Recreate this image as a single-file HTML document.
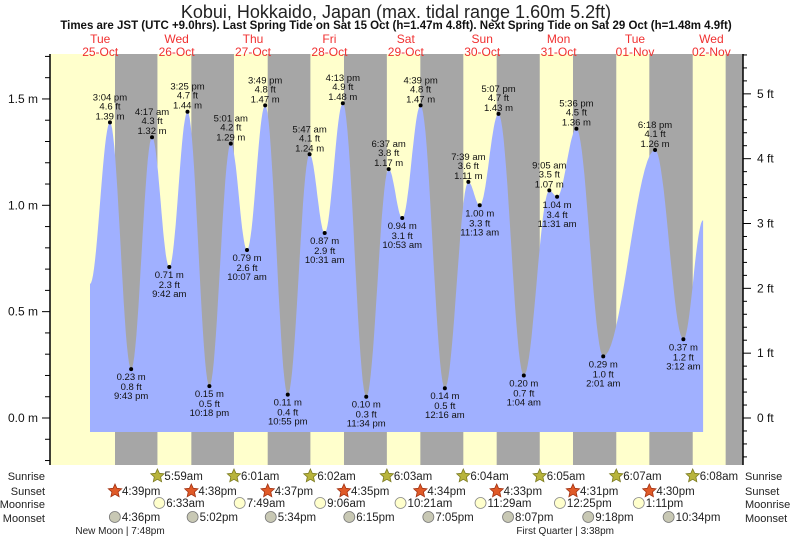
<!DOCTYPE html>
<html><head><meta charset="utf-8"><style>
html,body{margin:0;padding:0;background:#fff;}
svg{display:block;font-family:"Liberation Sans",sans-serif;}
</style></head><body>
<svg id="chart" width="793" height="539" viewBox="0 0 793 539">
<text x="396" y="18" font-size="18" text-anchor="middle" fill="#222">Kobui, Hokkaido, Japan (max. tidal range 1.60m 5.2ft)</text>
<text x="396" y="29" font-size="11.5" font-weight="bold" text-anchor="middle" fill="#111">Times are JST (UTC +9.0hrs). Last Spring Tide on Sat 15 Oct (h=1.47m 4.8ft). Next Spring Tide on Sat 29 Oct (h=1.48m 4.9ft)</text>
<g id="bands"></g><g id="water"></g><g id="axes"></g><g id="labels"></g><g id="astro"></g>
</svg>
<script>
// ---- data ----
const dayNames = ["Tue","Wed","Thu","Fri","Sat","Sun","Mon","Tue","Wed"];
const dayDates = ["25-Oct","26-Oct","27-Oct","28-Oct","29-Oct","30-Oct","31-Oct","01-Nov","02-Nov"];
const tideDays =  [0,   0,    0,    1,    1,    1,    1,    2,    2,    2,    2,    3,    3,    3,    3,    4,    4,    4,    5,    5,    5,    5,    6,    6,    6,    6,    7,    7,    8,    8];
const tideHours = [8.8, 15.07,21.72,4.28, 9.7, 15.42,22.3, 5.02, 10.12,15.82,22.92,5.78, 10.52,16.22,23.57,6.62, 10.88,16.65,0.27, 7.65, 11.22,17.12,1.07, 9.08, 11.52,17.6, 2.02, 18.3, 3.2,  9.4];
const tideHeights=[0.63,1.39, 0.23, 1.32, 0.71, 1.44, 0.15, 1.29, 0.79, 1.47, 0.11, 1.24, 0.87, 1.48, 0.10, 1.17, 0.94, 1.47, 0.14, 1.11, 1.00, 1.43, 0.20, 1.07, 1.04, 1.36, 0.29, 1.26, 0.37, 0.93];
const tideTypes = ["s","H","L","H","L","H","L","H","L","H","L","H","L","H","L","H","L","H","L","H","L","H","L","H","L","H","L","H","L","e"];
const tideLabels = ["","3:04 pm","9:43 pm","4:17 am","9:42 am","3:25 pm","10:18 pm","5:01 am","10:07 am","3:49 pm","10:55 pm","5:47 am","10:31 am","4:13 pm","11:34 pm","6:37 am","10:53 am","4:39 pm","12:16 am","7:39 am","11:13 am","5:07 pm","1:04 am","9:05 am","11:31 am","5:36 pm","2:01 am","6:18 pm","3:12 am",""];
const sunriseDays=[1,2,3,4,5,6,7,8];
const sunriseHours=[5.98,6.02,6.03,6.05,6.07,6.08,6.12,6.13];
const sunriseText=["5:59am","6:01am","6:02am","6:03am","6:04am","6:05am","6:07am","6:08am"];
const sunsetDays=[0,1,2,3,4,5,6,7,8];
const sunsetHours=[16.65,16.63,16.62,16.58,16.57,16.55,16.52,16.5,16.48];
const sunsetText=["4:39pm","4:38pm","4:37pm","4:35pm","4:34pm","4:33pm","4:31pm","4:30pm",""];
const moonriseDays=[1,2,3,4,5,6,7];
const moonriseHours=[6.55,7.82,9.1,10.35,11.48,12.42,13.18];
const moonriseText=["6:33am","7:49am","9:06am","10:21am","11:29am","12:25pm","1:11pm"];
const moonsetDays=[0,1,2,3,4,5,6,7];
const moonsetHours=[16.6,17.03,17.57,18.25,19.08,20.12,21.3,22.57];
const moonsetText=["4:36pm","5:02pm","5:34pm","6:15pm","7:05pm","8:07pm","9:18pm","10:34pm"];
const phaseDays=[0,6];
const phaseHours=[19.8,15.63];
const phaseText=["New Moon | 7:48pm","First Quarter | 3:38pm"];
const mTicks=[0,0.5,1.0,1.5];
const ftTicks=[0,1,2,3,4,5];

// ---- scales ----
const NS="http://www.w3.org/2000/svg";
const X0=50,X1=743,YT=54,YB=465;
const DAYPX=76.4, MID0=62;
function xT(d,h){return MID0+d*DAYPX+h*DAYPX/24;}
function yM(m){return 418-m*212.7;}
function mk(tag,attrs,parent){const e=document.createElementNS(NS,tag);for(const k in attrs)e.setAttribute(k,attrs[k]);parent.appendChild(e);return e;}
const bands=document.getElementById('bands'),water=document.getElementById('water'),axes=document.getElementById('axes'),labels=document.getElementById('labels'),astro=document.getElementById('astro');

let bg=mk('rect',{x:X0,y:YT,width:X1-X0,height:YB-YT,fill:'#ffffcc'},bands);


for(let i=0;i<sunsetDays.length;i++){
  const xs=xT(sunsetDays[i],sunsetHours[i]);
  const xe=i<sunriseDays.length?xT(sunriseDays[i],sunriseHours[i]):X1;
  const r=mk('rect',{x:xs,y:YT,width:Math.min(xe,X1)-xs,height:YB-YT,fill:'#a6a6a6'},bands);
  
  
}
for(let i=0;i<dayNames.length;i++){
  const cx=xT(i,12);
  const t1=mk('text',{x:cx,y:43,'font-size':12,'text-anchor':'middle',fill:'#f03030'},labels);t1.textContent=dayNames[i];
  
  
  const t2=mk('text',{x:cx,y:56,'font-size':12,'text-anchor':'middle',fill:'#f03030'},labels);t2.textContent=dayDates[i];
  
  
}
const pts=[];
for(let i=0;i<tideDays.length-1;i++){
  const xa=xT(tideDays[i],tideHours[i]),xb=xT(tideDays[i+1],tideHours[i+1]);
  const ha=tideHeights[i],hb=tideHeights[i+1];
  for(let s=0;s<=20;s++){const f=s/20;const h=ha+(hb-ha)*(1-Math.cos(Math.PI*f))/2;pts.push([xa+(xb-xa)*f,yM(h)]);}
}
const xs0=pts[0][0],xe0=pts[pts.length-1][0],yBot=432;
let d='M'+xs0.toFixed(1)+','+yBot+' '+pts.map(p=>'L'+p[0].toFixed(1)+','+p[1].toFixed(1)).join(' ')+' L'+xe0.toFixed(1)+','+yBot+'Z';
const wp=mk('path',{d:d,fill:'#a0b0ff'},water);


for(let i=0;i<tideDays.length;i++){
  if(tideTypes[i]!=='H'&&tideTypes[i]!=='L')continue;
  const x=xT(tideDays[i],tideHours[i]),y=yM(tideHeights[i]);
  const c=mk('circle',{cx:x,cy:y,r:2,fill:'#000'},labels);
  
  
  const m=tideHeights[i].toFixed(2)+' m',ft=(tideHeights[i]*3.281).toFixed(1)+' ft',tm=tideLabels[i];
  const lines=tideTypes[i]==='H'?[[tm,y-22],[ft,y-13],[m,y-3]]:[[m,y+11],[ft,y+21],[tm,y+30]];
  for(const [s,yy] of lines){
    const t=mk('text',{x:x,y:yy,'font-size':9.5,'text-anchor':'middle',fill:'#111'},labels);t.textContent=s;
    
    
  }
}
const la=mk('line',{x1:X0,y1:YT,x2:X0,y2:YB,stroke:'#000','stroke-width':1.5},axes);


const ra=mk('line',{x1:X1,y1:YT,x2:X1,y2:YB,stroke:'#000','stroke-width':1.5},axes);


for(let k=-2;k<=17;k++){const m=k/10;const y=yM(m);const maj=(k%5===0);
  mk('line',{x1:X0-(maj?8:5),y1:y,x2:X0,y2:y,stroke:'#000'},axes);}
for(const m of mTicks){const t=mk('text',{x:38,y:yM(m)+4,'font-size':12,'text-anchor':'end',fill:'#111'},axes);t.textContent=m.toFixed(1)+' m';
  
  }
for(let k=-7;k<=28;k++){const f=k/5;const y=yM(f*0.3048);if(y<YT||y>YB)continue;const maj=(k%5===0);
  mk('line',{x1:X1,y1:y,x2:X1+(maj?8:4),y2:y,stroke:'#000'},axes);}
for(const f of ftTicks){const t=mk('text',{x:757,y:yM(f*0.3048)+4,'font-size':12,fill:'#111'},axes);t.textContent=f+' ft';
  
  }
const rows=[["Sunrise",476],["Sunset",491],["Moonrise",504],["Moonset",518]];
for(const [n,y] of rows){
  const a=mk('text',{x:45,y:y+4,'font-size':11,'text-anchor':'end',fill:'#222'},astro);a.textContent=n;
  
  
  const b=mk('text',{x:745,y:y+4,'font-size':11,fill:'#222'},astro);b.textContent=n;
  
  
}
function star(cx,cy,fill,stroke){let p='';for(let k=0;k<10;k++){const r=k%2?3.3:7,a=-Math.PI/2+k*Math.PI/5;p+=(cx+r*Math.cos(a)).toFixed(1)+','+(cy+r*Math.sin(a)).toFixed(1)+' ';}
  return mk('polygon',{points:p,fill:fill,stroke:stroke,'stroke-width':0.8},astro);}
function evRow(days,hours,texts,y,kind){
  for(let i=0;i<days.length;i++){
    const x=xT(days[i],hours[i]);if(x>X1)continue;
    if(!texts[i])continue;
    let ic;
    if(kind==='rise')ic=star(x,y,'#b8b43c','#7a7a20');
    else if(kind==='set')ic=star(x,y,'#e05a28','#a03010');
    else if(kind==='mrise')ic=mk('circle',{cx:x,cy:y,r:5.5,fill:'#ffffcc',stroke:'#888','stroke-width':0.8},astro);
    else ic=mk('circle',{cx:x,cy:y,r:5.5,fill:'#c8c8b4',stroke:'#777','stroke-width':0.8},astro);
    
    
    const t=mk('text',{x:x+7,y:y+4,'font-size':11.5,fill:'#222'},astro);t.textContent=texts[i];
    
    
  }
}
evRow(sunriseDays,sunriseHours,sunriseText,476,'rise');
evRow(sunsetDays,sunsetHours,sunsetText,491,'set');
evRow(moonriseDays,moonriseHours,moonriseText,503,'mrise');
evRow(moonsetDays,moonsetHours,moonsetText,517,'mset');
for(let i=0;i<phaseDays.length;i++){
  const t=mk('text',{x:xT(phaseDays[i],phaseHours[i])-5,y:534,'font-size':10,'text-anchor':'middle',fill:'#222'},astro);t.textContent=phaseText[i];
  
  
}
</script>
</body></html>
